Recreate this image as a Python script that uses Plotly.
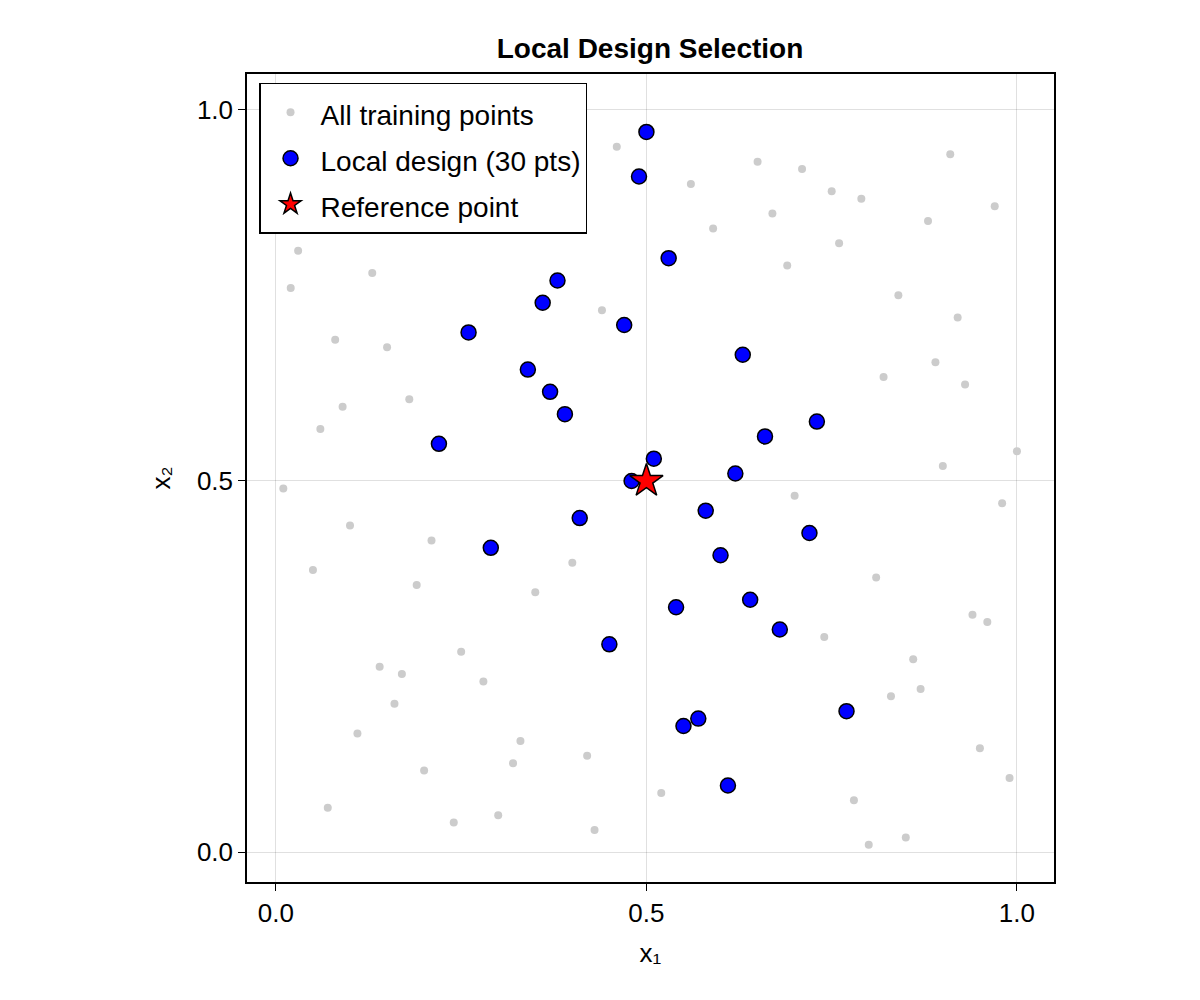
import plotly.graph_objects as go

# All training points (gray)
train_x = [0.46, 0.91, 0.65, 0.71, 0.56, 0.75, 0.79, 0.97, 0.67, 0.88, 0.59, 0.76, 0.03, 0.69,
           0.13, 0.02, 0.84, 0.44, 0.92, 0.08, 0.15, 0.89, 0.82, 0.93, 0.18, 0.09, 0.06, 1.00,
           0.01, 0.90, 0.70, 0.98, 0.10, 0.21, 0.40, 0.05, 0.81, 0.19, 0.35, 0.94, 0.96, 0.74,
           0.25, 0.86, 0.14, 0.17, 0.28, 0.87, 0.83, 0.16, 0.11, 0.33, 0.95, 0.42, 0.32, 0.20,
           0.99, 0.52, 0.78, 0.07, 0.30, 0.24, 0.43, 0.85, 0.80]
train_y = [0.95, 0.94, 0.93, 0.92, 0.90, 0.89, 0.88, 0.87, 0.86, 0.85, 0.84, 0.82, 0.81, 0.79,
           0.78, 0.76, 0.75, 0.73, 0.72, 0.69, 0.68, 0.66, 0.64, 0.63, 0.61, 0.60, 0.57, 0.54,
           0.49, 0.52, 0.48, 0.47, 0.44, 0.42, 0.39, 0.38, 0.37, 0.36, 0.35, 0.32, 0.31, 0.29,
           0.27, 0.26, 0.25, 0.24, 0.23, 0.22, 0.21, 0.20, 0.16, 0.15, 0.14, 0.13, 0.12, 0.11,
           0.10, 0.08, 0.07, 0.06, 0.05, 0.04, 0.03, 0.02, 0.01]

# Local design (30 pts)
local_x = [0.50, 0.49, 0.53, 0.38, 0.36, 0.47, 0.26, 0.63, 0.34, 0.37, 0.39, 0.73, 0.66, 0.22, 0.51,
           0.62, 0.48, 0.58, 0.41, 0.72, 0.29, 0.60, 0.64, 0.54, 0.68, 0.45, 0.77, 0.57, 0.55, 0.61]
local_y = [0.97, 0.91, 0.80, 0.77, 0.74, 0.71, 0.70, 0.67, 0.65, 0.62, 0.59, 0.58, 0.56, 0.55, 0.53,
           0.51, 0.50, 0.46, 0.45, 0.43, 0.41, 0.40, 0.34, 0.33, 0.30, 0.28, 0.19, 0.18, 0.17, 0.09]

# Reference point
ref_x = [0.5]
ref_y = [0.5]

tick_vals = [0, 0.5, 1.0]

all_x = train_x + local_x
all_y = train_y + local_y

FONT = "Liberation Sans, Arial, sans-serif"


def legend_label(text):
    return '<span style="font-size:28px">' + text + '</span>'


fig = go.Figure()
fig.add_trace(go.Scatter(
    x=all_x, y=all_y, mode="markers", name=legend_label("All training points"),
    legendgroup="a",
    marker=dict(color="#cccccc", size=8, line=dict(width=0)),
))
fig.add_trace(go.Scatter(
    x=local_x, y=local_y, mode="markers", name=legend_label("Local design (30 pts)"),
    legendgroup="b",
    marker=dict(color="#0000ff", size=15, line=dict(color="black", width=1.5)),
))
fig.add_trace(go.Scatter(
    x=ref_x, y=ref_y, mode="markers", name=legend_label("Reference point"),
    legendgroup="c",
    marker=dict(color="#ff0000", size=25, symbol="star", line=dict(color="black", width=1.5)),
))

axis_common = dict(
    showgrid=True, gridcolor="rgba(0,0,0,0.12)", gridwidth=1,
    zeroline=False, showline=True, linecolor="black", linewidth=1.5, mirror=True,
    ticks="outside", ticklen=7, tickcolor="black", tickwidth=1,
    tickvals=tick_vals, tickformat=".1f",
    tickfont=dict(family=FONT, size=26, color="black"),
)

fig.update_layout(
    width=1200, height=1000,
    paper_bgcolor="white", plot_bgcolor="white",
    margin=dict(l=239, r=154, t=66, b=126),
    title=dict(text="<b>Local Design Selection</b>", x=0.535, xanchor="center",
               y=0.96, yanchor="middle",
               font=dict(family=FONT, size=28, color="black")),
    xaxis=dict(range=[-0.039, 1.05], title=dict(text="x₁", font=dict(family=FONT, size=26, color="black"), standoff=17),
               **axis_common),
    yaxis=dict(range=[-0.040, 1.048], title=dict(text="x₂", font=dict(family=FONT, size=26, color="black"), standoff=19),
               **axis_common),
    legend=dict(x=0.0149, y=0.989, xanchor="left", yanchor="top",
                bgcolor="white", bordercolor="black", borderwidth=1.5,
                font=dict(family=FONT, size=33, color="black"),
                tracegroupgap=0, itemsizing="trace", itemwidth=50),
    showlegend=True,
)

fig.write_html("out.html")
